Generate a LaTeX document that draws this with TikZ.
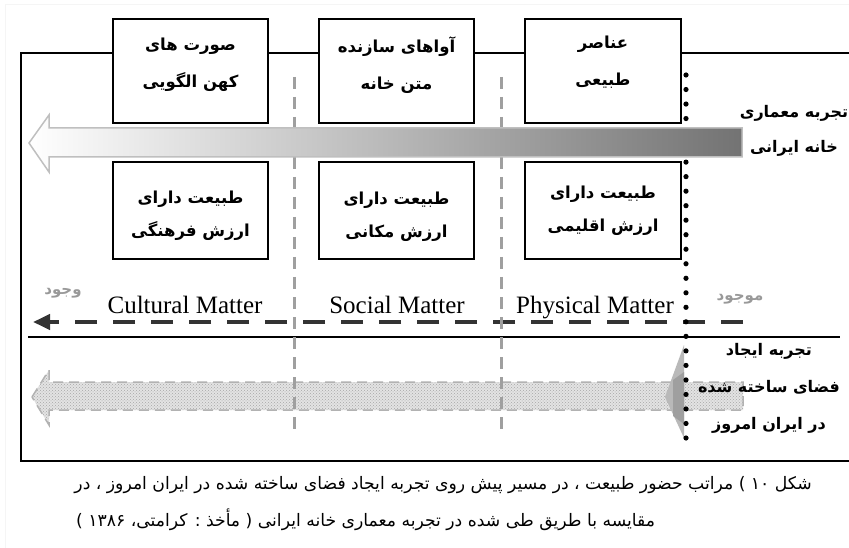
\documentclass[tikz,border=0pt]{standalone}
\usepackage{fontspec}
\setmainfont{Liberation Serif}
\newfontfamily\fa[Script=Arabic]{DejaVu Sans}
\TeXXeTstate=1
\usetikzlibrary{arrows.meta,patterns}
\newcommand{\rl}[1]{\beginR #1\endR}
\definecolor{darkdash}{HTML}{333333}
\definecolor{lightgraytxt}{HTML}{999999}
\tikzset{
  box/.style={draw, line width=1.4pt, fill=white, inner sep=0pt, minimum width=155pt},
  upbox/.style={box, minimum height=104pt},
  lowbox/.style={box, minimum height=97pt},
  upt/.style={font=\fa\bfseries\fontsize{16.5}{37}\selectfont, align=center, inner sep=0pt},
  lowt/.style={font=\fa\bfseries\fontsize{16.5}{33}\selectfont, align=center, inner sep=0pt},
  sidet/.style={font=\fa\bfseries\fontsize{16}{35}\selectfont, align=center, inner sep=0pt},
  graylbl/.style={font=\fa\bfseries\fontsize{15}{18}\selectfont, text=lightgraytxt, inner sep=0pt},
  eng/.style={font=\fontsize{25}{30}\selectfont, inner sep=0pt, anchor=base},
  captxt/.style={font=\fa\fontsize{17.2}{20}\selectfont, inner sep=0pt},
  frameline/.style={line width=1.4pt},
  graydash/.style={draw=gray!75, line width=3pt, dash pattern=on 12pt off 8pt},
  blackdash/.style={draw=darkdash, line width=4pt, dash pattern=on 22pt off 16pt},
}
\begin{document}
\begin{tikzpicture}[x=1pt,y=-1pt]
\useasboundingbox (0,0) rectangle (849,548);
\fill[white] (0,0) rectangle (849,548);
% faint outer frame
\draw[gray!8, line width=1pt] (5,548) -- (5,5) -- (849,5);
% main frame
\coordinate (ftl) at (21,53);
\coordinate (ftr) at (849,53);
\coordinate (fbl) at (21,461);
\coordinate (fbr) at (849,461);
\draw[frameline] (ftr) -- (ftl) -- (fbl) -- (fbr);
% boxes
\node[upbox] (u1) at (190.5,71) {};
\node[upbox] (u2) at (396.5,71) {};
\node[upbox, minimum width=156pt] (u3) at (603,71) {};
\node[lowbox] (l1) at (190.5,210.5) {};
\node[lowbox] (l2) at (396.5,210.5) {};
\node[lowbox, minimum width=156pt] (l3) at (603,210.5) {};
% horizontal separator
\coordinate (hl) at (28,337);
\coordinate (hr) at (840,337);
\draw[line width=1.6pt] (hl) -- (hr);
% black dashed arrow
\coordinate (bdr) at (743,322);
\coordinate (bdl) at (33,322);
\draw[blackdash, -{Triangle[length=17pt,width=15pt]}] (bdr) -- (bdl);
% bottom patterned arrow
\def\botarrow{(32,397) -- (49,370) -- (49,382) -- (743,382) -- (743,410) -- (49,410) -- (49,425) -- cycle}
\fill[gray!22] \botarrow;
\fill[pattern=crosshatch dots, pattern color=gray!70] \botarrow;
\draw[gray!60, line width=1.5pt, dash pattern=on 10pt off 6pt] \botarrow;
% gray dashed vertical separators
\coordinate (g1t) at (294,77);
\coordinate (g1b) at (294,432);
\coordinate (g2t) at (501,77);
\coordinate (g2b) at (501,432);
\draw[graydash] (g1t) -- (g1b);
\draw[graydash] (g2t) -- (g2b);
% dark arrow head at right of bottom arrow
\fill[gray!55] (684,345) -- (665,397) -- (684,438) -- cycle;
\fill[gray!75] (684,372) -- (673,380) -- (673,416) -- (684,424) -- cycle;
% dotted vertical line
\foreach \i in {0,...,25} \fill (686,75+\i*14.52) circle (2.6pt);
% top gradient arrow
\def\toparrow{(29,143) -- (49,115) -- (49,128) -- (742,128) -- (742,157) -- (49,157) -- (49,172) -- cycle}
\shade[left color=white, right color=black!55] \toparrow;
\draw[gray!50, line width=1.5pt, line join=miter] \toparrow;
% box texts
\node[upt] (tu1) at (190.5,65) {\rl{صورت های}\\\rl{کهن الگویی}};
\node[upt] (tu2) at (396.5,65) {\rl{آواهای سازنده}\\\rl{متن خانه}};
\node[upt] (tu3) at (603,62) {\rl{عناصر}\\\rl{طبیعی}};
\node[lowt] (tl1) at (190.5,216) {\rl{طبیعت دارای}\\\rl{ارزش فرهنگی}};
\node[lowt] (tl2) at (396.5,217) {\rl{طبیعت دارای}\\\rl{ارزش مکانی}};
\node[lowt] (tl3) at (603,211) {\rl{طبیعت دارای}\\\rl{ارزش اقلیمی}};
% side labels
\node[sidet] (s1) at (794,131) {\rl{تجربه معماری}\\\rl{خانه  ایرانی}};
\node[sidet, font=\fa\bfseries\fontsize{16}{37}\selectfont] (s2) at (769,388) {\rl{تجربه ایجاد}\\\rl{فضای ساخته شده}\\\rl{در ایران امروز}};
\node[graylbl] (mj) at (740,299) {\rl{موجود}};
\node[graylbl] (vj) at (63,293) {\rl{وجود}};
% english labels
\node[eng] (cm) at (185,313) {Cultural Matter};
\node[eng] (sm) at (397,313) {Social Matter};
\node[eng] (pm) at (595,313) {Physical Matter};
% caption
\node[captxt, anchor=east] (c1) at (812,485) {\rl{شکل ۱۰ ) مراتب حضور طبیعت ، در مسیر پیش روی تجربه ایجاد فضای ساخته شده در ایران امروز ، در}};
\node[captxt, anchor=west] (c2) at (76,520) {\rl{مقایسه با طریق طی شده در تجربه معماری خانه ایرانی ( مأخذ : کرامتی، ۱۳۸۶ )}};
\end{tikzpicture}
\end{document}
